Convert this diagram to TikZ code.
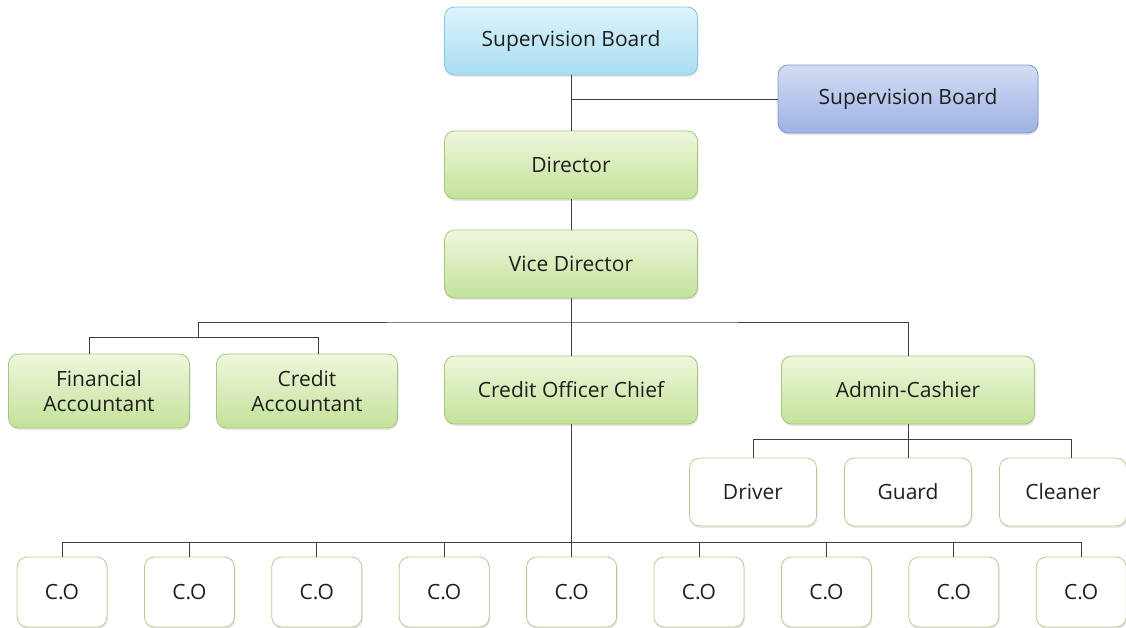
\documentclass[tikz,border=0pt]{standalone}
\usepackage{fontspec}
\setmainfont{Open Sans}
\usetikzlibrary{positioning, shadows}

\definecolor{skyA}{HTML}{DDF3FC}
\definecolor{skyB}{HTML}{A8DDF1}
\definecolor{skyE}{HTML}{86C6DE}
\definecolor{blueA}{HTML}{D3DDF4}
\definecolor{blueB}{HTML}{9DB2E3}
\definecolor{blueE}{HTML}{8296C8}
\definecolor{leafA}{HTML}{EEF7DC}
\definecolor{leafB}{HTML}{C4E29A}
\definecolor{leafE}{HTML}{A9C67F}
\definecolor{rimE}{HTML}{B9CB94}
\definecolor{wire}{HTML}{3F3F3F}

\begin{document}
\begin{tikzpicture}[
    x=1pt, y=-1pt,
    % GLOBAL CFG
    font=\fontsize{21}{25}\selectfont,
    % Styles
    box/.style={% common look of every box
        rectangle,
        rounded corners=10pt,
        draw,
        line width=0.8pt,
        align=center,
        text=black!88,
        drop shadow={opacity=0.18, shadow xshift=1pt, shadow yshift=-2pt},
        },
    board/.style={% the light blue top box
        box, draw=skyE, top color=skyA, bottom color=skyB,
        minimum width=253pt, minimum height=68pt,
        },
    board2/.style={% the side box
        box, draw=blueE, top color=blueA, bottom color=blueB,
        minimum width=260pt, minimum height=68pt,
        },
    head/.style={% green boxes
        box, draw=leafE, top color=leafA, bottom color=leafB,
        minimum width=253pt, minimum height=68pt,
        },
    acct/.style={% small green boxes
        head, minimum width=181pt, minimum height=74pt,
        },
    staff/.style={% white boxes
        box, draw=rimE, fill=white,
        minimum width=127pt, minimum height=68pt,
        },
    co/.style={% credit officers
        box, draw=rimE, fill=white,
        minimum width=90pt, minimum height=70pt,
        },
    wireline/.style={% connectors
        draw=wire, line width=0.9pt,
        },
    ]

    \useasboundingbox (0,0) rectangle (1126,627);

    % Top part
    \node [board] (sb) at (571,41) {Supervision Board};
    \node [board2] (sb2) at (908,99) {Supervision Board};
    \node [head] (dir) at (571,165) {Director};
    \node [head] (vd) at (571,264) {Vice Director};

    % Middle row
    \node [acct] (fin) at (99,391) {Financial\\Accountant};
    \node [acct] (cred) at (307,391) {Credit\\Accountant};
    \node [head] (coc) at (571,390) {Credit Officer Chief};
    \node [head] (adm) at (908,390) {Admin-Cashier};

    % Admin staff
    \node [staff] (drv) at (753,492) {Driver};
    \node [staff] (grd) at (908,492) {Guard};
    \node [staff] (cln) at (1063,492) {Cleaner};

    % Credit officers named co#
    \foreach \i in {0,...,8}
        \node [co] (co\i) at (62+127.4*\i,592) {C.O};

    % Bus points
    \coordinate (bus1) at (571,322);
    \coordinate (bus2) at (198,322);
    \coordinate (bus3) at (198,337);
    \coordinate (bus4) at (908,439);
    \coordinate (bus5) at (571,542);

% Start connecting all.
    \draw [wireline] (sb) -- (dir);
    \draw [wireline] (sb2.west) -- (sb2.west -| sb);
    \draw [wireline] (dir) -- (vd);
    \draw [wireline] (vd) -- (coc);

    % Vice director branches
    \draw [wireline] (bus2) -- (bus1) -| (adm);
    \draw [wireline] (bus2) -- (bus3);
    \draw [wireline] (bus3) -| ([xshift=-10pt]fin.north);
    \draw [wireline] (bus3) -| ([xshift=11pt]cred.north);

    % Admin staff
    \draw [wireline] (adm) -- (grd);
    \draw [wireline] (bus4) -| (drv);
    \draw [wireline] (bus4) -| ([xshift=8pt]cln.north);

    % Credit officers
    \draw [wireline] (coc) -- (bus5);
    \foreach \i in {0,...,8}
        \draw [wireline] (bus5) -| (co\i);

\end{tikzpicture}
\end{document}
